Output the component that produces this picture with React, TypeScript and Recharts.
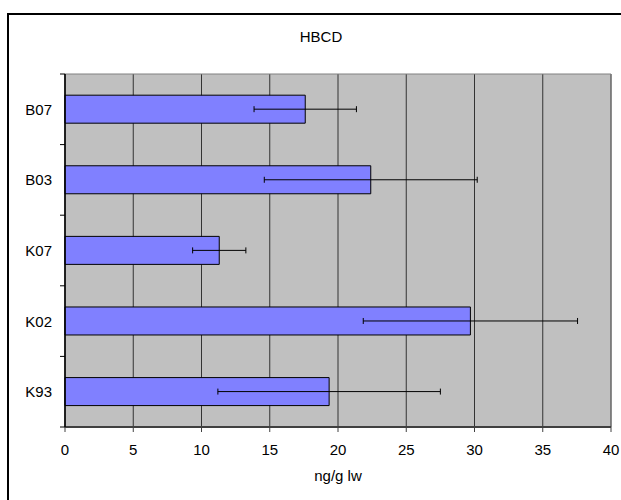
import {
  Bar,
  BarChart,
  CartesianGrid,
  ErrorBar,
  Label,
  ReferenceArea,
  XAxis,
  YAxis,
} from 'recharts'

const categories = ['B07', 'B03', 'K07', 'K02', 'K93']
const hbcd = [17.6, 22.4, 11.3, 29.7, 19.35]
const hbcdErr = [3.75, 7.8, 1.95, 7.85, 8.15]
const xTicks = [0, 5, 10, 15, 20, 25, 30, 35, 40]

const data = categories.map((name, i) => ({ name, value: hbcd[i], err: hbcdErr[i] }))

const FONT = '"Liberation Sans", Arial, Helvetica, sans-serif'

// category labels sit in the middle of each band, tick marks on the band edges
function CategoryTick(props: any) {
  const { x, y, payload, index, height } = props
  const half = payload?.offset || (height ? height / categories.length / 2 : 35)
  const isLast = index === categories.length - 1
  return (
    <g>
      <line x1={x + 8} x2={x + 13} y1={y - half} y2={y - half} stroke="#000" />
      {isLast && <line x1={x + 8} x2={x + 13} y1={y + half} y2={y + half} stroke="#000" />}
      <text x={x} y={y} dy="0.36em" textAnchor="end" fontSize={15} fill="#000" fontFamily={FONT}>
        {payload.value}
      </text>
    </g>
  )
}

export default function App() {
  return (
    <div style={{ position: 'absolute', left: 0, top: 0, width: 621, height: 500, overflow: 'hidden', background: '#fff' }}>
      <svg width={621} height={500} style={{ position: 'absolute', left: 0, top: 0 }}>
        <rect x={8} y={14} width={626} height={500} fill="#fff" stroke="#000" strokeWidth={2} />
        <text x={321} y={42} textAnchor="middle" fontSize={15} fontFamily={FONT} fill="#000">
          HBCD
        </text>
      </svg>
      <div style={{ position: 'absolute', left: 0, top: 0 }}>
        <BarChart
          width={621}
          height={500}
          data={data}
          layout="vertical"
          barCategoryGap="30%"
          margin={{ top: 74, right: 10, left: 0, bottom: 0 }}
        >
          <CartesianGrid horizontal={false} fill="#C0C0C0" stroke="#333" />
          <ReferenceArea x1={0} x2={40} fill="none" stroke="#808080" />
          <XAxis
            type="number"
            domain={[0, 40]}
            ticks={xTicks}
            height={73}
            tickSize={5}
            tickMargin={12}
            axisLine={{ stroke: '#404040', strokeWidth: 2 }}
            tickLine={{ stroke: '#404040' }}
            tick={{ fontSize: 15, fill: '#000', fontFamily: FONT }}
          >
            <Label
              value="ng/g lw"
              position="insideBottom"
              offset={19}
              style={{ fontSize: 15, fill: '#000', fontFamily: FONT }}
            />
          </XAxis>
          <YAxis
            type="category"
            dataKey="name"
            width={65}
            tickSize={5}
            tickMargin={8}
            tickLine={false}
            axisLine={{ stroke: '#000', strokeWidth: 1.5 }}
            tick={<CategoryTick />}
          />
          <Bar dataKey="value" fill="#8080FF" stroke="#000" strokeWidth={1} isAnimationActive={false}>
            <ErrorBar dataKey="err" direction="x" width={3} stroke="#000" strokeWidth={1} isAnimationActive={false} />
          </Bar>
        </BarChart>
      </div>
    </div>
  )
}
